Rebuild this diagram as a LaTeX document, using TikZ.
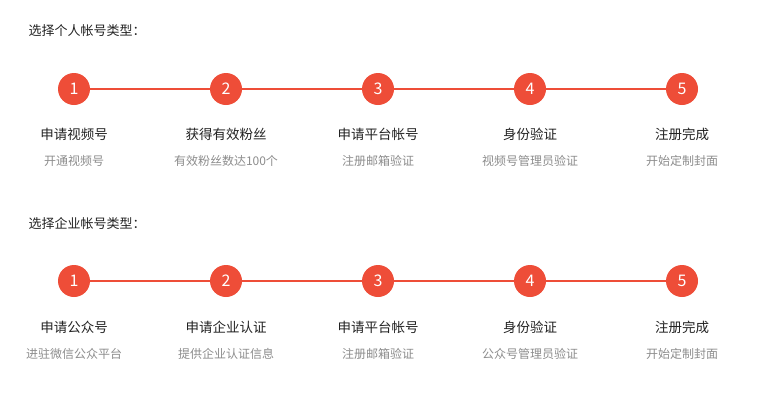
\documentclass[tikz,border=0pt]{standalone}
\usepackage{fontspec}
\setmainfont{Noto Sans CJK SC}
\usetikzlibrary{positioning}
\definecolor{stepred}{RGB}{238, 77, 56}
\definecolor{subgrey}{RGB}{140, 140, 140}
\definecolor{titletext}{RGB}{34, 34, 34}
\tikzset{
  stepdot/.style={circle, fill=stepred, minimum size=32pt, inner sep=0pt,
    text=white, font=\fontsize{16}{16}\selectfont},
  steplabel/.style={text=titletext, font=\fontsize{13.5}{13.5}\selectfont},
  stepsub/.style={text=subgrey, font=\fontsize{12}{12}\selectfont},
  rowtitle/.style={anchor=west, text=titletext, font=\fontsize{13}{13}\selectfont}
}
\begin{document}
\begin{tikzpicture}[x=1pt, y=-1pt]
\useasboundingbox (0,0) rectangle (784,405);

% personal account
\node[rowtitle] (ptitle) at (25,31) {选择个人帐号类型：};
\draw[stepred, line width=1.5pt] (74,89) -- (682,89);
\foreach \i/\main/\sub in {1/申请视频号/开通视频号, 2/获得有效粉丝/有效粉丝数达100个,
    3/申请平台帐号/注册邮箱验证, 4/身份验证/视频号管理员验证, 5/注册完成/开始定制封面} {
  \node[stepdot] (p\i) at ({74+152*(\i-1)},89) {\i};
  \node[steplabel] (pl\i) at ({74+152*(\i-1)},134) {\main};
  \node[stepsub] (ps\i) at ({74+152*(\i-1)},161) {\sub};
}

% company account
\node[rowtitle] (ctitle) at (25,224) {选择企业帐号类型：};
\draw[stepred, line width=1.5pt] (74,281) -- (682,281);
\foreach \i/\main/\sub in {1/申请公众号/进驻微信公众平台, 2/申请企业认证/提供企业认证信息,
    3/申请平台帐号/注册邮箱验证, 4/身份验证/公众号管理员验证, 5/注册完成/开始定制封面} {
  \node[stepdot] (c\i) at ({74+152*(\i-1)},281) {\i};
  \node[steplabel] (cl\i) at ({74+152*(\i-1)},327) {\main};
  \node[stepsub] (cs\i) at ({74+152*(\i-1)},354) {\sub};
}
\end{tikzpicture}
\end{document}
